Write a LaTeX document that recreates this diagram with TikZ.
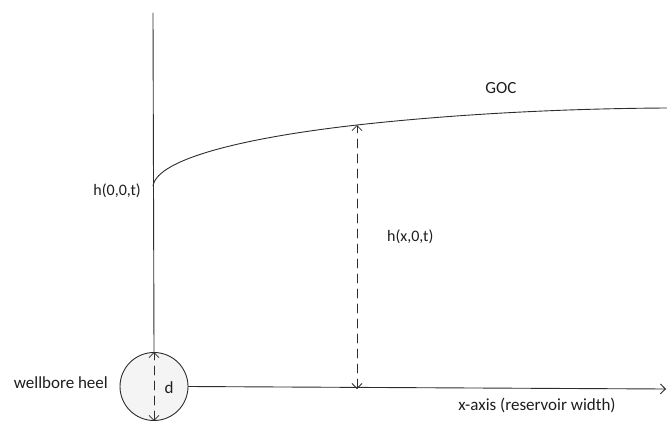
\documentclass[tikz,border=0pt]{standalone}
\usepackage{fontspec}
\setmainfont{Carlito}
\usetikzlibrary{arrows.meta,positioning}
\definecolor{sketchline}{RGB}{45,45,45}
\definecolor{sketchtext}{RGB}{30,30,30}
\tikzset{
 axisline/.style={sketchline,line width=0.9pt},
 dimarrow/.style={sketchline,line width=0.8pt,dash pattern=on 9pt off 6pt,
  {Straight Barb[length=5pt,width=10pt]}-{Straight Barb[length=5pt,width=10pt]}},
 lbl/.style={font=\fontsize{17}{19}\selectfont,text=sketchtext,inner sep=0pt},
 hlbl/.style={font=\fontsize{16}{18}\selectfont,text=sketchtext,inner sep=0pt}
}

\begin{document}
\begin{tikzpicture}[x=1pt,y=-1pt,line cap=round,line join=round]
 \useasboundingbox (0,0) rectangle (667,421);
 \node[circle,draw=sketchline,line width=0.9pt,fill=gray!9,minimum size=68pt,inner sep=0pt]
  (heel) at (154,386.5) {};
 \coordinate (top) at (153,13);
 \coordinate (axisend) at (666,389);
 \coordinate (gocfoot) at (357,389);
 \coordinate (gocpt) at (357,125);
 \coordinate (gocend) at (667,108);
 % wellbore column and reservoir axis
 \draw[axisline] (top) -- (heel.north);
 \draw[axisline,-{Straight Barb[length=5pt,width=10pt]}] (heel.east) -- (axisend);
 % gas-oil contact
 \draw[axisline] (153,186) .. controls (157,158) and (250,137) .. (gocpt)
  .. controls (450,114.6) and (560,108.5) .. (gocend);
 % heights
 \draw[dimarrow] (gocfoot) -- (gocpt);
 \draw[dimarrow] (heel.south) -- (heel.north);
 \node[lbl] (dlbl) at (169,388) {d};
 \node[lbl,anchor=east] (heellbl) at (108,383) {wellbore heel};
 \node[hlbl,anchor=east] (h0lbl) at (141,191) {h(0,0,t)};
 \node[hlbl,anchor=west] (hxlbl) at (387,237) {h(x,0,t)};
 \node[lbl] (goclbl) at (501,88) {GOC};
 \node[lbl] (xlbl) at (537,405) {x-axis (reservoir width)};
\end{tikzpicture}
\end{document}
